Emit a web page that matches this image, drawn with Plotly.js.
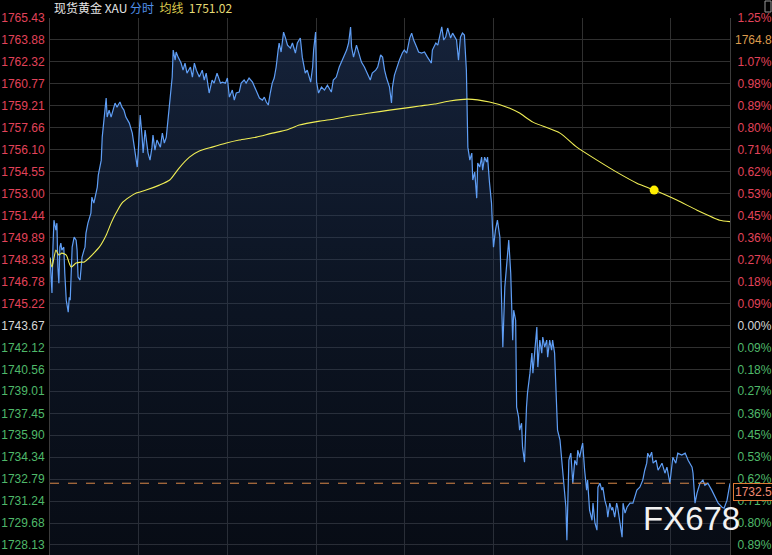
<!DOCTYPE html>
<html>
<head>
<meta charset="utf-8">
<script src="https://cdn.plot.ly/plotly-3.0.1.min.js"></script>
<style>
html,body{margin:0;padding:0;background:#000;}
#chart{width:772px;height:555px;}
</style>
</head>
<body>
<div id="chart"></div>
<script>
// ---- data (minutes since session open, price) ----
const priceTime = [
0,4,6,8,12,14,16,18,20,22,24,28,30,33,37,39,41,43,45,49,53,55,57,61,63,65,69,71,73,77,83,85,89,93,96,98,
104,106,110,114,116,120,124,126,132,136,142,146,150,154,161,167,171,177,179,183,187,189,193,197,199,203,207,209,213,217,224,228,232,236,240,244,248,250,254,256,260,266,270,274,278,285,289,293,297,303,309,313,317,323,329,333,339,346,350,356,360,364,370,374,378,384,388,394,398,404,411,415,419,425,431,435,439,443,447,451,455,459,463,465,469,474,478,482,488,492,498,502,
508,512,518,522,529,533,535,539,541,545,551,557,563,571,575,581,587,593,602,606,610,612,616,622,626,632,638,644,650,654,661,665,671,675,679,683,689,693,695,699,703,709,715,719,724,730,734,738,744,748,754,760,766,774,776,783,787,795,799,803,807,813,817,825,829,833,837,841,845,
848,852,856,858,862,866,868,872,876,878,882,886,888,892,896,898,900,904,908,913,915,917,919,923,927,931,935,937,939,941,945,947,951,953,957,959,963,967,969,974,978,980,984,988,990,994,998,1000,1004,1008,1010,1014,1018,1020,1024,1028,1030,1035,1039,1041,1045,1047,1049,1051,1053,1057,1059,1061,1065,1069,1071,
1075,1079,1081,1085,1089,1091,1095,1100,1102,1106,1110,1112,1116,1120,1122,1126,1130,1132,1136,1140,1142,1146,1150,1152,1156,1161,1163,1167,1171,1177,1183,1191,1197,1203,1207,1211,1213,1217,1221,1224,1230,1234,1242,1248,1252,1258,1264,1270,1274,1282,1289,1295,1303,1305,1309,1313,1319,1325,1329,1335,1343,1350,1356,1364,1368,1374,1378,1380
];
const priceValue = [
1748.50,1745.96,1749.21,1751.12,1750.42,1750.91,1747.80,1746.66,1749.21,1749.50,1749.00,1749.21,1747.37,1745.46,1744.61,1745.67,1745.46,1747.80,1749.21,1749.92,1749.71,1749.00,1747.09,1746.88,1747.80,1748.50,1749.00,1749.21,1750.20,1750.91,1751.62,1752.75,1752.33,1753.04,1753.46,1754.31,
1755.37,1757.00,1758.20,1759.76,1758.42,1758.91,1758.42,1758.70,1759.41,1759.12,1759.48,1759.12,1758.91,1758.42,1757.99,1757.28,1756.29,1754.88,1755.87,1758.56,1757.00,1755.87,1757.50,1756.58,1755.87,1755.37,1756.29,1757.14,1756.08,1756.79,1756.29,1757.28,1756.58,1757.00,1758.20,1759.83,1761.25,1763.16,1762.45,1763.02,1762.66,1762.24,1761.74,1762.24,1761.53,1761.96,1761.25,1762.24,1761.74,1761.25,1761.74,1761.04,1761.53,1760.12,1761.04,1760.82,1761.53,1760.82,1760.89,1760.82,1761.18,1759.83,1760.33,1759.62,1760.12,1760.19,1760.82,1761.04,1760.82,1761.18,1760.89,1760.54,1760.33,1759.76,1759.62,1759.83,1759.48,1759.27,1760.12,1760.82,1761.18,1761.96,1763.16,1763.66,1763.02,1764.43,1764.01,1763.51,1763.30,1763.66,1762.95,1763.66,
1764.01,1762.66,1761.53,1761.74,1760.89,1761.96,1763.16,1764.43,1760.89,1760.12,1760.54,1760.33,1760.68,1760.19,1761.04,1761.25,1761.96,1762.45,1763.16,1763.66,1764.79,1763.37,1762.66,1763.51,1762.95,1762.31,1761.96,1761.53,1761.04,1761.53,1761.74,1761.96,1762.81,1762.66,1761.74,1761.18,1760.54,1759.41,1760.54,1761.39,1761.89,1762.45,1762.95,1763.16,1762.95,1764.01,1764.36,1763.87,1763.37,1763.02,1762.95,1763.02,1762.66,1762.24,1763.16,1763.66,1763.51,1764.80,1763.87,1764.08,1764.72,1764.01,1764.36,1763.87,1762.45,1764.08,1764.36,1764.22,1761.74,
1756.29,1755.37,1755.87,1753.96,1754.52,1752.68,1755.16,1754.88,1755.58,1754.66,1755.58,1755.23,1755.58,1753.74,1752.33,1750.63,1749.21,1750.42,1751.12,1749.92,1747.80,1744.54,1742.13,1746.38,1748.29,1749.71,1747.37,1745.46,1742.63,1744.75,1744.04,1737.88,1737.18,1736.26,1736.75,1735.05,1733.99,1737.88,1738.88,1740.29,1741.71,1740.29,1742.13,1743.55,1740.72,1742.63,1741.71,1742.84,1742.13,1742.63,1741.42,1742.63,1741.92,1742.63,1741.71,1737.88,1736.26,1735.55,1734.13,1733.21,1732.01,1730.80,1728.47,1730.80,1734.13,1734.63,1733.21,1732.50,1734.13,1733.78,1734.84,
1734.34,1735.05,1735.34,1733.42,1732.01,1732.72,1730.59,1729.88,1731.09,1729.67,1729.18,1732.22,1732.50,1732.01,1732.22,1731.30,1730.80,1730.10,1731.09,1730.59,1730.80,1730.10,1731.09,1730.80,1729.88,1728.68,1731.09,1730.38,1730.80,1731.09,1731.09,1732.01,1732.22,1732.72,1733.42,1733.92,1734.63,1734.34,1734.70,1733.92,1734.13,1733.42,1733.92,1733.21,1733.64,1732.50,1734.34,1733.92,1734.63,1734.49,1734.63,1734.13,1733.64,1733.21,1731.09,1731.80,1732.50,1732.72,1732.36,1732.50,1732.01,1731.51,1731.09,1730.80,1730.73,1731.30,1732.22,1732.50
];
const avgTime = [0,4,12,18,24,33,39,43,53,63,69,79,89,100,114,124,134,146,161,175,195,222,243,262,283,303,329,358,384,419,451,480,506,547,577,608,649,689,720,750,780,811,848,892,933,953,980,1035,1069,1110,1150,1191,1226,1272,1313,1359,1380];
const avgValue = [1748.43,1747.80,1749.00,1748.65,1748.79,1748.65,1748.08,1747.80,1748.08,1748.15,1748.15,1748.43,1748.79,1749.21,1750.06,1750.91,1751.62,1752.33,1752.75,1753.04,1753.25,1753.60,1753.96,1754.81,1755.58,1756.01,1756.29,1756.58,1756.79,1757.00,1757.28,1757.50,1757.85,1758.13,1758.28,1758.49,1758.70,1758.91,1759.05,1759.20,1759.34,1759.55,1759.69,1759.48,1759.05,1758.70,1758.06,1757.28,1756.29,1755.37,1754.52,1753.74,1753.25,1752.54,1751.83,1751.12,1751.02];
const markerTime = [1226];
const markerValue = [1753.25];

const prevClose = 1743.67;
const lastPrice = 1732.5;
const highLabel = '1764.8';
const lastLabel = '1732.5';
const avgLabel = '1751.02';
const yTicks = [1765.43,1763.88,1762.32,1760.77,1759.21,1757.66,1756.10,1754.55,1753.00,1751.44,1749.89,1748.33,1746.78,1745.22,1743.67,1742.12,1740.56,1739.01,1737.45,1735.90,1734.34,1732.79,1731.24,1729.68,1728.13];
const yTickText = ['1765.43','1763.88','1762.32','1760.77','1759.21','1757.66','1756.10','1754.55','1753.00','1751.44','1749.89','1748.33','1746.78','1745.22','1743.67','1742.12','1740.56','1739.01','1737.45','1735.90','1734.34','1732.79','1731.24','1729.68','1728.13'];
const pctText = ['1.25%','1.16%','1.07%','0.98%','0.89%','0.80%','0.71%','0.62%','0.53%','0.45%','0.36%','0.27%','0.18%','0.09%','0.00%','0.09%','0.18%','0.27%','0.36%','0.45%','0.53%','0.62%','0.71%','0.80%','0.89%'];

// ---- styling ----
const RED = '#e2435a', GREEN = '#4fb96a', NEUTRAL = '#d6d6d6';
function colorFor(v){ return Math.abs(v - prevClose) < 0.005 ? NEUTRAL : (v > prevClose ? RED : GREEN); }
const leftText = yTicks.map((v,i)=>`<span style="color:${colorFor(v)}">${yTickText[i]}</span>`);
const rightText = yTicks.map((v,i)=> i===1 ? '' : `<span style="color:${colorFor(v)}">${pctText[i]}</span>`);

const yMin = 1727.42, yMax = 1765.43;
const FONT = 'Liberation Sans, Arial, sans-serif';
const GRID = '#303030';

const traces = [
  {
    x: priceTime, y: priceValue, type: 'scatter', mode: 'lines',
    line: {color: '#5f9ef5', width: 1.2},
    fill: 'tozeroy',
    fillgradient: {type: 'vertical', start: yMin, stop: yMax,
      colorscale: [[0, 'rgba(25,40,70,0.30)'], [0.5, 'rgba(30,50,85,0.42)'], [1, 'rgba(36,58,98,0.60)']]},
    hoverinfo: 'skip'
  },
  {
    x: avgTime, y: avgValue, type: 'scatter', mode: 'lines',
    line: {color: '#f0ee55', width: 1.1, shape: 'spline', smoothing: 0.6},
    hoverinfo: 'skip'
  },
  {
    x: markerTime, y: markerValue, type: 'scatter', mode: 'markers', yaxis: 'y2',
    marker: {color: '#ffee00', size: 9},
    hoverinfo: 'skip'
  }
];

const W = 772, H = 555, ML = 50, MR = 42, MT = 18, MB = 0;
const PW = W - ML - MR, PH = H - MT - MB;
const px = x => (x - ML) / PW;
const py = y => (H - MB - y) / PH;

const layout = {
  width: W, height: H,
  margin: {l: ML, r: MR, t: MT, b: MB, pad: 0},
  paper_bgcolor: '#000', plot_bgcolor: '#000',
  showlegend: false,
  font: {family: FONT, size: 12, color: '#ccc'},
  xaxis: {
    range: [0, 1380], tick0: 0, dtick: 180,
    showgrid: true, gridcolor: GRID, gridwidth: 1,
    showticklabels: false, ticks: '', zeroline: false, showline: false, fixedrange: true
  },
  yaxis: {
    range: [yMin, yMax], tickmode: 'array', tickvals: yTicks, ticktext: leftText,
    showgrid: true, gridcolor: GRID, gridwidth: 1,
    ticks: '', zeroline: false, showline: true, linecolor: '#3c3c3c', linewidth: 1,
    tickfont: {family: FONT, size: 12}, ticklabelstandoff: 2
  },
  yaxis2: {
    overlaying: 'y', side: 'right',
    range: [yMin, yMax], tickmode: 'array', tickvals: yTicks, ticktext: rightText,
    showgrid: false, ticks: '', zeroline: false, showline: true, linecolor: '#3c3c3c', linewidth: 1,
    tickfont: {family: FONT, size: 12}, ticklabelstandoff: 4
  },
  shapes: [
    {type: 'line', xref: 'paper', x0: 0, x1: 1, yref: 'y', y0: lastPrice, y1: lastPrice,
     line: {color: '#dc8a48', width: 1, dash: 'dash'}},
    {type: 'rect', xref: 'paper', yref: 'paper', x0: px(765), x1: px(771), y0: py(12), y1: py(1),
     line: {color: '#9a9a9a', width: 1}, fillcolor: 'rgba(0,0,0,0)'}
  ],
  annotations: [
    {xref: 'paper', yref: 'paper', x: px(52), y: py(8), xanchor: 'left', yanchor: 'middle', showarrow: false,
     text: `现货黄金 XAU <span style="color:#4f8fe8">分时</span>  <span style="color:#dccb4e">均线</span>  <span style="color:#e4da74">${avgLabel}</span>`,
     font: {family: 'Noto Sans CJK SC, Liberation Sans, sans-serif', size: 12, color: '#e6e6e6'}},
    {xref: 'paper', yref: 'y', x: px(733), y: yTicks[1], xanchor: 'left', yanchor: 'middle', showarrow: false,
     text: highLabel, bgcolor: '#000', font: {family: FONT, size: 12, color: '#dc9a4c'}},
    {xref: 'paper', yref: 'paper', x: px(733), y: py(491.5), xanchor: 'left', yanchor: 'middle', showarrow: false,
     text: lastLabel, bgcolor: '#000', bordercolor: '#e07a34', borderwidth: 1, borderpad: 1,
     font: {family: FONT, size: 12, color: '#f08a72'}},
    {xref: 'paper', yref: 'paper', x: px(691), y: py(518), xanchor: 'center', yanchor: 'middle', showarrow: false,
     text: 'FX678', font: {family: FONT, size: 33, color: '#f2f2f2'}}
  ]
};

Plotly.newPlot('chart', traces, layout, {staticPlot: true, displayModeBar: false});
</script>
</body>
</html>
